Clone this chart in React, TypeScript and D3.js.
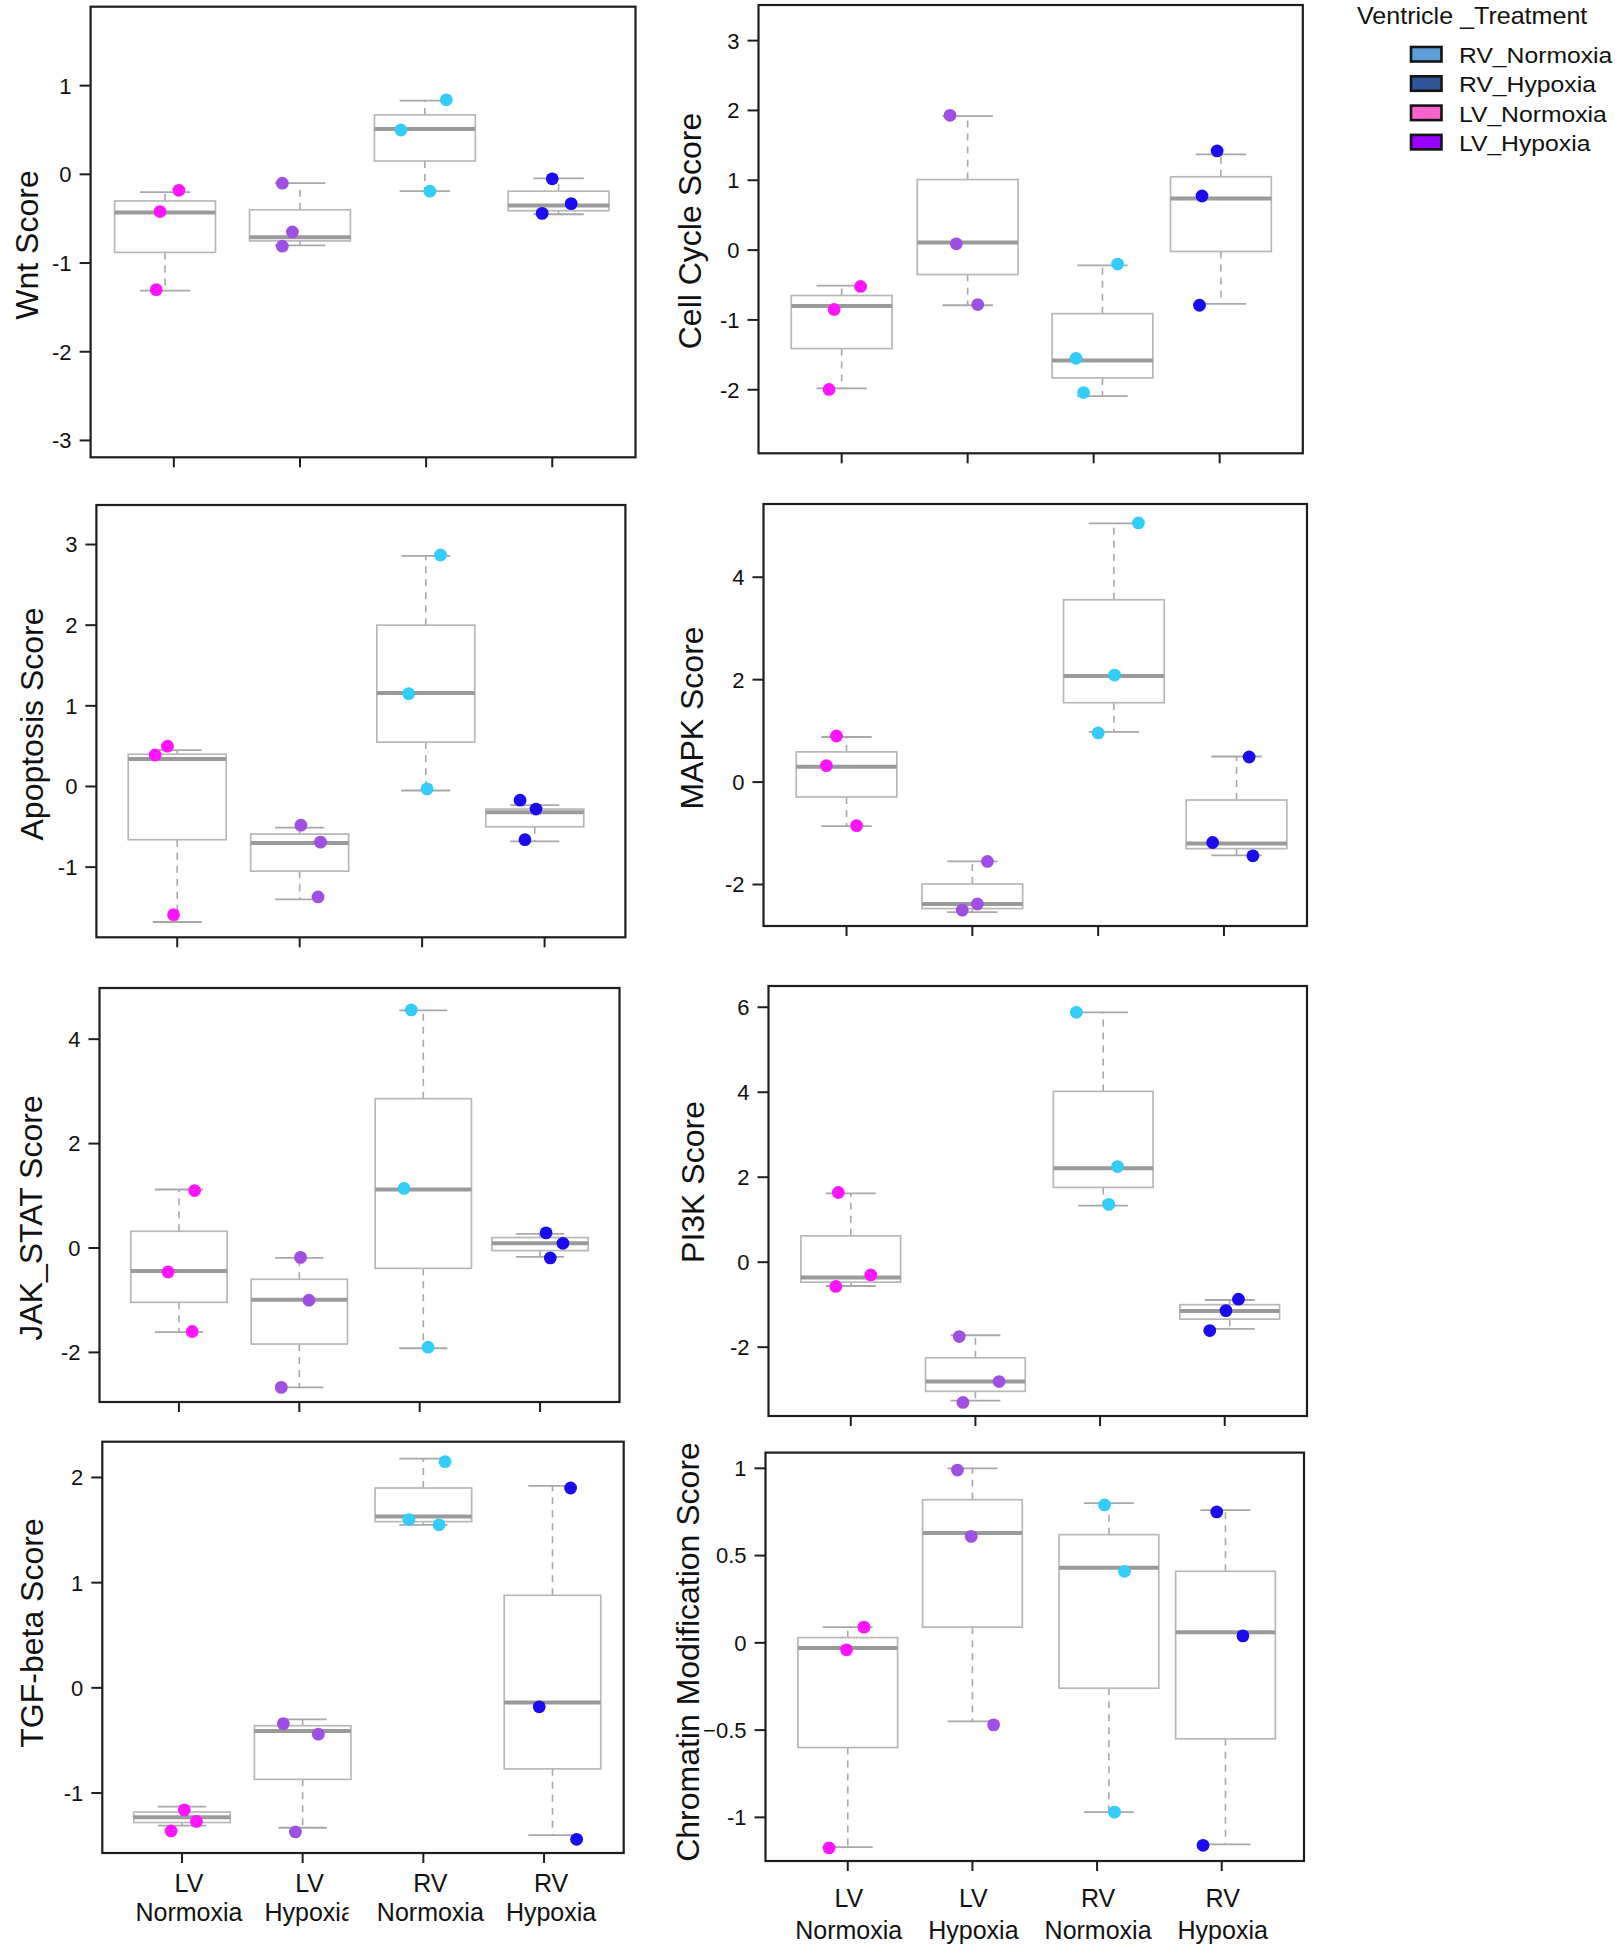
import React from "react";
import * as d3 from "d3";

// ---------- shared categories / legend ----------
const categories = ["LV Normoxia", "LV Hypoxia", "RV Normoxia", "RV Hypoxia"];
const categoryLines = [["LV", "Normoxia"], ["LV", "Hypoxia"], ["RV", "Normoxia"], ["RV", "Hypoxia"]];
const pointColors = ["#ff14ff", "#a04fe4", "#33ccfb", "#1a0cef"];
const legendTitle = "Ventricle _Treatment";
const legendLabels = ["RV_Normoxia", "RV_Hypoxia", "LV_Normoxia", "LV_Hypoxia"];
const legendColors = ["#5d9dd8", "#2e5597", "#ff62cc", "#9a00ff"];

// box stats per group: [whiskerLow, q1, median, q3, whiskerHigh]
// ---------- Wnt ----------
const wntPoints = [[-0.18, -0.42, -1.30], [-0.10, -0.65, -0.81], [0.84, 0.50, -0.19], [-0.05, -0.33, -0.44]];
const wntJitter = [[0.04, -0.11, -0.14], [-0.14, -0.06, -0.14], [0.16, -0.20, 0.03], [0.0, 0.15, -0.08]];
const wntBoxes = [[-1.31, -0.88, -0.43, -0.30, -0.20], [-0.80, -0.75, -0.71, -0.40, -0.10], [-0.19, 0.15, 0.51, 0.67, 0.83], [-0.45, -0.41, -0.35, -0.19, -0.045]];
const wntShift = [-0.07, 0, -0.01, 0.05];
const wntDomain = [-3.19, 1.89];
const wntTicks = [-3, -2, -1, 0, 1];

// ---------- Cell Cycle ----------
const cellPoints = [[-0.52, -0.85, -1.995], [1.93, 0.09, -0.78], [-0.20, -1.55, -2.04], [1.42, 0.775, -0.79]];
const cellJitter = [[0.15, -0.06, -0.10], [-0.14, -0.09, 0.08], [0.19, -0.14, -0.08], [-0.02, -0.14, -0.16]];
const cellBoxes = [[-1.98, -1.41, -0.80, -0.65, -0.51], [-0.79, -0.35, 0.11, 1.01, 1.92], [-2.09, -1.83, -1.58, -0.91, -0.22], [-0.77, -0.02, 0.74, 1.05, 1.37]];
const cellShift = [0, 0, 0.07, 0.01];
const cellDomain = [-2.91, 3.51];
const cellTicks = [-2, -1, 0, 1, 2, 3];

// ---------- Apoptosis ----------
const apoPoints = [[0.39, 0.50, -1.59], [-0.48, -0.69, -1.37], [2.87, 1.15, -0.03], [-0.17, -0.28, -0.66]];
const apoJitter = [[-0.18, -0.08, -0.03], [0.01, 0.17, 0.15], [0.15, -0.11, 0.04], [-0.20, -0.07, -0.16]];
const apoBoxes = [[-1.68, -0.66, 0.34, 0.40, 0.45], [-1.40, -1.05, -0.70, -0.59, -0.51], [-0.05, 0.55, 1.16, 2.0, 2.86], [-0.68, -0.50, -0.32, -0.28, -0.23]];
const apoShift = [0, 0, 0.03, -0.08];
const apoDomain = [-1.87, 3.49];
const apoTicks = [-1, 0, 1, 2, 3];

// ---------- MAPK ----------
const mapkPoints = [[0.90, 0.32, -0.85], [-1.55, -2.38, -2.50], [5.06, 2.09, 0.96], [0.49, -1.18, -1.44]];
const mapkJitter = [[-0.08, -0.16, 0.08], [0.12, 0.04, -0.08], [0.32, 0.13, 0.0], [0.20, -0.09, 0.23]];
const mapkBoxes = [[-0.86, -0.29, 0.30, 0.59, 0.88], [-2.54, -2.47, -2.38, -1.99, -1.55], [0.98, 1.55, 2.07, 3.56, 5.05], [-1.43, -1.30, -1.20, -0.35, 0.50]];
const mapkShift = [0, 0, 0.125, 0.10];
const mapkDomain = [-2.81, 5.43];
const mapkTicks = [-2, 0, 2, 4];

// ---------- JAK_STAT ----------
const jakPoints = [[1.10, -0.46, -1.60], [-0.18, -1.00, -2.67], [4.56, 1.14, -1.90], [0.29, 0.09, -0.19]];
const jakJitter = [[0.13, -0.09, 0.11], [0.01, 0.08, -0.15], [-0.07, -0.13, 0.07], [0.05, 0.19, 0.085]];
const jakBoxes = [[-1.61, -1.04, -0.44, 0.32, 1.12], [-2.67, -1.84, -0.99, -0.60, -0.19], [-1.92, -0.39, 1.12, 2.86, 4.55], [-0.17, -0.05, 0.09, 0.20, 0.27]];
const jakShift = [0, 0, 0.03, 0];
const jakDomain = [-2.95, 4.98];
const jakTicks = [-2, 0, 2, 4];

// ---------- PI3K ----------
const pi3kPoints = [[1.64, -0.30, -0.57], [-1.75, -2.81, -3.30], [5.88, 2.25, 1.36], [-0.87, -1.14, -1.61]];
const pi3kJitter = [[-0.10, 0.16, -0.12], [-0.13, 0.19, -0.10], [-0.19, 0.14, 0.07], [0.11, 0.01, -0.12]];
const pi3kBoxes = [[-0.56, -0.47, -0.36, 0.62, 1.62], [-3.26, -3.04, -2.81, -2.25, -1.72], [1.33, 1.76, 2.21, 4.02, 5.88], [-1.57, -1.34, -1.15, -1.00, -0.89]];
const pi3kShift = [0, 0, 0.025, 0.04];
const pi3kDomain = [-3.62, 6.5];
const pi3kTicks = [-2, 0, 2, 4, 6];

// ---------- TGF-beta ----------
const tgfPoints = [[-1.16, -1.27, -1.36], [-0.34, -0.44, -1.37], [2.15, 1.60, 1.55], [1.90, -0.18, -1.44]];
const tgfJitter = [[0.02, 0.12, -0.09], [-0.16, 0.13, -0.06], [0.18, -0.12, 0.13], [0.22, -0.04, 0.27]];
const tgfBoxes = [[-1.31, -1.28, -1.23, -1.18, -1.13], [-1.33, -0.87, -0.41, -0.36, -0.30], [1.55, 1.58, 1.63, 1.90, 2.18], [-1.40, -0.77, -0.14, 0.88, 1.92]];
const tgfShift = [0, 0, 0, 0.07];
const tgfDomain = [-1.57, 2.34];
const tgfTicks = [-1, 0, 1, 2];

// ---------- Chromatin Modification ----------
const chromPoints = [[0.09, -0.04, -1.175], [0.99, 0.61, -0.47], [0.79, 0.41, -0.97], [0.75, 0.04, -1.16]];
const chromJitter = [[0.13, -0.01, -0.15], [-0.12, -0.01, 0.17], [0.06, 0.22, 0.14], [-0.04, 0.17, -0.15]];
const chromBoxes = [[-1.17, -0.60, -0.03, 0.03, 0.09], [-0.45, 0.09, 0.63, 0.82, 1.0], [-0.97, -0.26, 0.43, 0.62, 0.80], [-1.155, -0.55, 0.06, 0.41, 0.76]];
const chromShift = [0, 0, 0.095, 0.03];
const chromDomain = [-1.25, 1.09];
const chromTicks = [-1, -0.5, 0, 0.5, 1];

const panels = [
  { title: "Wnt Score", points: wntPoints, jitter: wntJitter, boxes: wntBoxes, shift: wntShift, domain: wntDomain, ticks: wntTicks },
  { title: "Cell Cycle Score", points: cellPoints, jitter: cellJitter, boxes: cellBoxes, shift: cellShift, domain: cellDomain, ticks: cellTicks },
  { title: "Apoptosis Score", points: apoPoints, jitter: apoJitter, boxes: apoBoxes, shift: apoShift, domain: apoDomain, ticks: apoTicks },
  { title: "MAPK Score", points: mapkPoints, jitter: mapkJitter, boxes: mapkBoxes, shift: mapkShift, domain: mapkDomain, ticks: mapkTicks },
  { title: "JAK_STAT Score", points: jakPoints, jitter: jakJitter, boxes: jakBoxes, shift: jakShift, domain: jakDomain, ticks: jakTicks },
  { title: "PI3K Score", points: pi3kPoints, jitter: pi3kJitter, boxes: pi3kBoxes, shift: pi3kShift, domain: pi3kDomain, ticks: pi3kTicks },
  { title: "TGF-beta Score", points: tgfPoints, jitter: tgfJitter, boxes: tgfBoxes, shift: tgfShift, domain: tgfDomain, ticks: tgfTicks },
  { title: "Chromatin Modification Score", points: chromPoints, jitter: chromJitter, boxes: chromBoxes, shift: chromShift, domain: chromDomain, ticks: chromTicks },
];

// ---------- layout (pixels) ----------
const layouts = [
  { x0: 90.6, x1: 635.5, y0: 6.7, y1: 457.3, tx: 26, ty: 245 },
  { x0: 758.5, x1: 1302.8, y0: 5, y1: 453.3, tx: 689, ty: 231 },
  { x0: 96.4, x1: 625.4, y0: 505, y1: 937.3, tx: 31.6, ty: 724 },
  { x0: 763.5, x1: 1307, y0: 504, y1: 926, tx: 691, ty: 718 },
  { x0: 99.5, x1: 619.5, y0: 988, y1: 1402, tx: 30, ty: 1218 },
  { x0: 768.5, x1: 1307, y0: 986, y1: 1416, tx: 692.5, ty: 1182 },
  { x0: 102.3, x1: 623.7, y0: 1441.7, y1: 1853, tx: 31.6, ty: 1633, labels: { y1: 1883, y2: 1912, dx: 7, clip: [1, 348.5] } },
  { x0: 765.5, x1: 1304, y0: 1452.6, y1: 1861, tx: 687, ty: 1652, labels: { y1: 1898, y2: 1930, dx: 1 } },
];

const FONT = "'Liberation Sans', Arial, Helvetica, sans-serif";
const BOX_W = 0.8;
const CAP_W = 0.4;

function Panel({ p, L, idx }: { p: any; L: any; idx: number }) {
  const x = d3.scaleLinear().domain([0.34, 4.66]).range([L.x0, L.x1]);
  const y = d3.scaleLinear().domain(p.domain).range([L.y1, L.y0]);
  const fmt = (v: number) => (Number.isInteger(v) ? String(v) : d3.format(".1f")(v));
  return (
    <g>
      {/* boxes */}
      {p.boxes.map((b: number[], i: number) => {
        const c = i + 1 + p.shift[i];
        const [wl, q1, med, q3, wh] = b;
        return (
          <g key={"b" + i}>
            <line x1={x(c)} x2={x(c)} y1={y(q3)} y2={y(wh)} stroke="#a8a8a8" strokeWidth={1.6} strokeDasharray="7,6" />
            <line x1={x(c)} x2={x(c)} y1={y(q1)} y2={y(wl)} stroke="#a8a8a8" strokeWidth={1.6} strokeDasharray="7,6" />
            <line x1={x(c - CAP_W / 2)} x2={x(c + CAP_W / 2)} y1={y(wh)} y2={y(wh)} stroke="#a8a8a8" strokeWidth={1.8} />
            <line x1={x(c - CAP_W / 2)} x2={x(c + CAP_W / 2)} y1={y(wl)} y2={y(wl)} stroke="#a8a8a8" strokeWidth={1.8} />
            <rect x={x(c - BOX_W / 2)} y={y(q3)} width={x(c + BOX_W / 2) - x(c - BOX_W / 2)} height={y(q1) - y(q3)} fill="#ffffff" stroke="#b8b8b8" strokeWidth={1.7} />
            <line x1={x(c - BOX_W / 2)} x2={x(c + BOX_W / 2)} y1={y(med)} y2={y(med)} stroke="#9a9a9a" strokeWidth={4} />
          </g>
        );
      })}
      {/* points */}
      {p.points.map((pts: number[], i: number) =>
        pts.map((v: number, j: number) => (
          <circle key={"p" + i + "_" + j} cx={x(i + 1 + p.jitter[i][j])} cy={y(v)} r={6.4} fill={pointColors[i]} />
        ))
      )}
      {/* frame */}
      <rect x={L.x0} y={L.y0} width={L.x1 - L.x0} height={L.y1 - L.y0} fill="none" stroke="#1e1e1e" strokeWidth={2.2} />
      {/* y axis */}
      {p.ticks.map((t: number) => (
        <g key={"t" + t}>
          <line x1={L.x0 - 11} x2={L.x0} y1={y(t)} y2={y(t)} stroke="#1e1e1e" strokeWidth={2} />
          <text x={L.x0 - 19} y={y(t)} dy="0.36em" textAnchor="end" fontSize={22} fontFamily={FONT} fill="#111">
            {fmt(t)}
          </text>
        </g>
      ))}
      {/* x ticks */}
      {categories.map((c, i) => (
        <line key={"xt" + i} x1={x(i + 1)} x2={x(i + 1)} y1={L.y1} y2={L.y1 + 10} stroke="#1e1e1e" strokeWidth={2} />
      ))}
      {/* x labels */}
      {L.labels &&
        categoryLines.map((lines, i) => {
          const clip = L.labels.clip && L.labels.clip[0] === i ? `url(#clip${idx})` : undefined;
          return (
            <g key={"xl" + i} clipPath={clip}>
              <text x={x(i + 1) + L.labels.dx} y={L.labels.y1} dy="0.36em" textAnchor="middle" fontSize={25} fontFamily={FONT} fill="#111">
                {lines[0]}
              </text>
              <text x={x(i + 1) + L.labels.dx} y={L.labels.y2} dy="0.36em" textAnchor="middle" fontSize={25} fontFamily={FONT} fill="#111">
                {lines[1]}
              </text>
            </g>
          );
        })}
      {L.labels && L.labels.clip && (
        <clipPath id={"clip" + idx}>
          <rect x={0} y={L.y1} width={L.labels.clip[1]} height={200} />
        </clipPath>
      )}
      {/* y title */}
      <text
        transform={`translate(${L.tx},${L.ty}) rotate(-90)`}
        dy="0.36em"
        textAnchor="middle"
        fontSize={32}
        fontFamily={FONT}
        fill="#111"
      >
        {p.title}
      </text>
    </g>
  );
}

function Legend() {
  return (
    <g>
      <text transform="translate(1357,24) scale(1.09,1)" fontSize={23} fontFamily={FONT} fill="#111">
        {legendTitle}
      </text>
      {legendLabels.map((lab, i) => (
        <g key={lab}>
          <rect x={1411} y={47 + i * 29.3} width={30.5} height={14.5} fill={legendColors[i]} stroke="#151515" strokeWidth={2.6} />
          <text transform={`translate(1459,${63 + i * 29.3}) scale(1.075,1)`} fontSize={23} fontFamily={FONT} fill="#111">
            {lab}
          </text>
        </g>
      ))}
    </g>
  );
}

export default function App() {
  return (
    <svg
      width={1619}
      height={1950}
      viewBox="0 0 1619 1950"
      style={{ position: "absolute", left: 0, top: 0, background: "#ffffff" }}
    >
      <rect x={0} y={0} width={1619} height={1950} fill="#ffffff" />
      {panels.map((p, i) => (
        <Panel key={p.title} p={p} L={layouts[i]} idx={i} />
      ))}
      <Legend />
    </svg>
  );
}
